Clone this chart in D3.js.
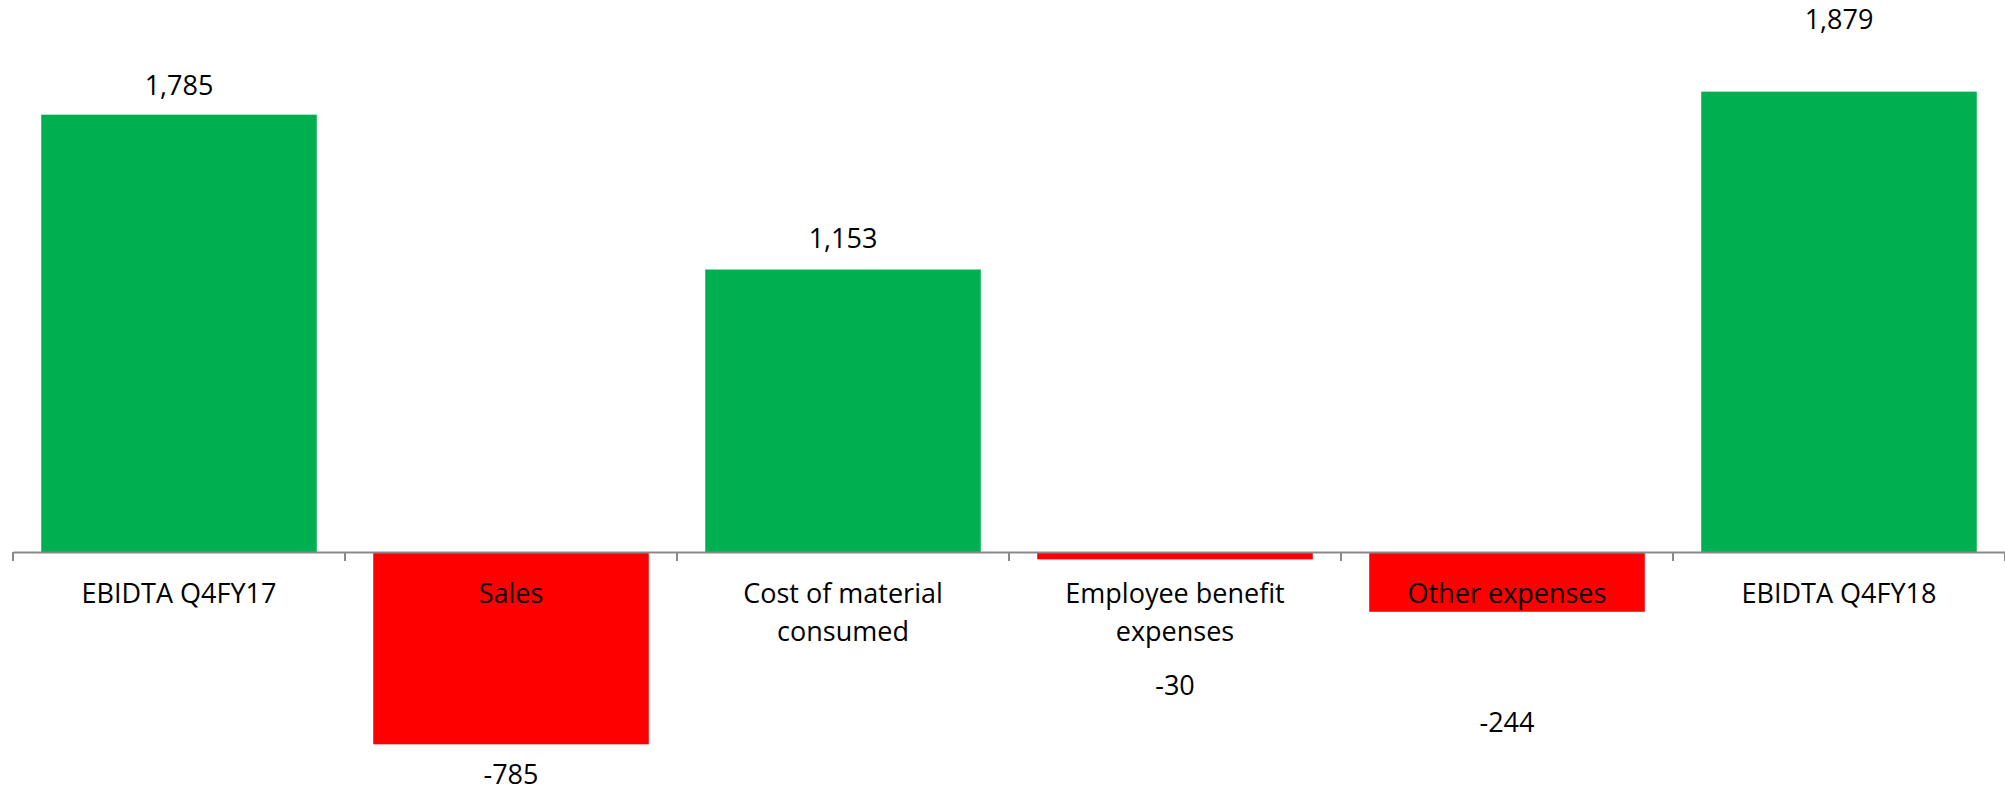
<!DOCTYPE html>
<html>
<head>
<meta charset="utf-8">
<script src="https://cdn.jsdelivr.net/npm/d3@7"></script>
<style>
  html, body { margin: 0; padding: 0; background: #fff; }
  svg { display: block; }
</style>
</head>
<body>
<script>
// chart data
let categories = ["EBIDTA Q4FY17", "Sales", "Cost of material consumed",
                  "Employee benefit expenses", "Other expenses", "EBIDTA Q4FY18"];
let values = [1785, -785, 1153, -30, -244, 1879];

// label distance from bar end (px), labels were hand placed in the original
let labelGap = [20, 40, 22, 136, 120, 63];

let w = 2005;
let h = 793;
let font = "'Open Sans', sans-serif";

let svg = d3.select("body")
            .append("svg")
            .attr("width", w)
            .attr("height", h);

let x = d3.scaleBand()
          .domain(categories)
          .range([13, 2005])
          .paddingInner(0.17)
          .paddingOuter(0.085);

let y = d3.scaleLinear()
          .domain([-1000, 2000])
          .range([797, 62]);

// bars
svg.selectAll("rect.bar")
    .data(values)
    .enter()
    .append("rect")
    .attr("class", "bar")
    .attr("x", function(d, i) { return x(categories[i]); })
    .attr("y", function(d) { return y(Math.max(0, d)); })
    .attr("width", x.bandwidth())
    .attr("height", function(d) { return Math.abs(y(d) - y(0)); })
    .attr("fill", function(d) { return d >= 0 ? "#00B050" : "#FF0000"; });

// category axis
let axis = svg.append("g")
    .attr("transform", "translate(0," + y(0) + ")")
    .call(d3.axisBottom(x).tickSize(0).tickSizeOuter(0).tickPadding(0));

axis.select(".domain")
    .attr("stroke", "#898989")
    .attr("stroke-width", 2);

axis.selectAll(".tick text").remove();

// boundary ticks between categories
let step = x.step();
let bounds = d3.range(categories.length + 1).map(function(i) { return 13 + i * step; });
axis.selectAll("line.bound")
    .data(bounds)
    .enter()
    .append("line")
    .attr("class", "bound")
    .attr("x1", function(d) { return d; })
    .attr("x2", function(d) { return d; })
    .attr("y1", 0)
    .attr("y2", 9)
    .attr("stroke", "#898989")
    .attr("stroke-width", 2);

// wrapped category labels
let catText = axis.selectAll("text.cat")
    .data(categories)
    .enter()
    .append("text")
    .attr("class", "cat")
    .attr("x", function(d) { return x(d) + x.bandwidth() / 2; })
    .attr("y", 51)
    .attr("text-anchor", "middle")
    .attr("font-family", font)
    .attr("font-size", "27px")
    .attr("fill", "#000");

catText.each(function(d) {
    let t = d3.select(this);
    let words = d.split(" ");
    let line = [];
    let tspan = t.append("tspan").attr("x", t.attr("x")).attr("dy", 0);
    words.forEach(function(word) {
        line.push(word);
        tspan.text(line.join(" "));
        if (tspan.node().getComputedTextLength() > 250 && line.length > 1) {
            line.pop();
            tspan.text(line.join(" "));
            line = [word];
            tspan = t.append("tspan").attr("x", t.attr("x")).attr("dy", 38).text(word);
        }
    });
});

// value labels
svg.selectAll("text.val")
    .data(values)
    .enter()
    .append("text")
    .attr("class", "val")
    .text(function(d) { return d3.format(",")(d).replace("−", "-"); })
    .attr("x", function(d, i) { return x(categories[i]) + x.bandwidth() / 2; })
    .attr("y", function(d, i) {
        return d >= 0 ? y(d) - labelGap[i] : y(d) + labelGap[i];
    })
    .attr("text-anchor", "middle")
    .attr("font-family", font)
    .attr("font-size", "27px")
    .attr("fill", "#000");
</script>
</body>
</html>
